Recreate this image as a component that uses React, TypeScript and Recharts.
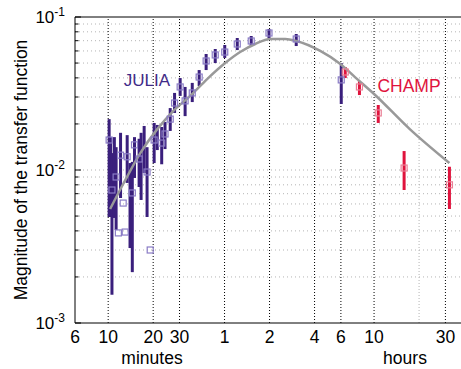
import React from "react";
import {
  ComposedChart,
  XAxis,
  YAxis,
  Line,
  Scatter,
  ErrorBar,
  ReferenceLine,
} from "recharts";

const FONT = '"Liberation Sans", Arial, Helvetica, sans-serif';

// periods are in minutes
const juliaPeriod = [
  10.15, 10.4, 10.6, 11.0, 11.3, 11.7, 12.1, 12.6, 13.0, 13.4, 14.0, 14.5, 15.0,
  16.1, 16.6, 17.4, 18.2, 19.1, 20.3, 21.3, 22.8, 24.0, 26.0, 27.8, 30.3, 32.7,
  36.5, 40.6, 45.2, 52.0, 60.2, 73.0, 90.5, 119, 181, 362,
];
const juliaSquare = [
  0.0157, null, 0.0074, null, 0.009, 0.00388, 0.0125, 0.00608, 0.00393, 0.0122,
  null, 0.00708, 0.0146, 0.0118, null, null, 0.0097, 0.003, 0.0157, null, 0.015,
  0.0172, 0.0215, 0.0274, 0.0349, 0.0283, 0.0319, 0.0405, 0.0516, 0.0565, 0.059,
  0.0666, 0.0697, 0.0786, 0.0718, 0.0388,
];
const juliaLow = [
  0.00493, 0.00493, 0.00153, 0.00486, 0.00405, null, 0.00656, null, null,
  0.00823, 0.00309, 0.00215, 0.00887, 0.00774, 0.00637, 0.00956, 0.00493, null,
  0.0111, 0.0135, 0.0109, 0.0137, 0.018, 0.0236, 0.0305, 0.0225, 0.0278, 0.0354,
  0.045, 0.05, 0.054, 0.0608, 0.0646, 0.0729, 0.0646, 0.027,
];
const juliaHigh = [
  0.0215, 0.0164, 0.0129, 0.0164, 0.0141, null, 0.0175, null, null, 0.0169,
  0.0111, 0.0113, 0.0164, 0.016, 0.0175, 0.0194, 0.0141, null, 0.0203, 0.0197,
  0.0191, 0.0206, 0.0254, 0.0319, 0.0399, 0.0349, 0.0371, 0.045, 0.0573, 0.0618,
  0.0656, 0.0729, 0.0751, 0.0835, 0.0774, 0.05,
];

const champPeriod = [385, 479, 640, 953, 1915];
const champSquare = [0.0437, 0.0349, 0.0236, 0.0103, 0.008];
const champLow = [0.0399, 0.0309, 0.0203, 0.0074, 0.00556];
const champHigh = [0.0471, 0.0382, 0.0266, 0.0133, 0.0105];

const fitPeriod = [
  10.3, 12.6, 16.4, 21.3, 27.2, 35.4, 45.9, 60.6, 76.3, 96.2, 121, 153, 181,
  262, 357, 447, 600, 1040, 1915,
];
const fitValue = [
  0.00556, 0.0081, 0.0129, 0.0185, 0.0243, 0.0305, 0.0393, 0.05, 0.059, 0.0666,
  0.0718, 0.0718, 0.0697, 0.06, 0.0493, 0.0405, 0.0314, 0.0185, 0.0111,
];

const xTicks = [6, 10, 20, 30, 60, 120, 240, 360, 600, 1800];
const xTickLabels = ["6", "10", "20", "30", "1", "2", "4", "6", "10", "30"];
const xFaintGrid = [1200];
const yDecades = [0.001, 0.01, 0.1];
const yDecadeExp = ["-3", "-2", "-1"];
const yMinor = [
  0.002, 0.003, 0.004, 0.005, 0.006, 0.007, 0.008, 0.009, 0.02, 0.03, 0.04,
  0.05, 0.06, 0.07, 0.08, 0.09,
];
const yTicks = [...yDecades, ...yMinor].sort((a, b) => a - b);

const toSquares = (period: number[], vals: (number | null)[]) =>
  period
    .map((x, i) => ({ x, y: vals[i] }))
    .filter((d) => d.y != null);

const toBars = (period: number[], low: (number | null)[], high: (number | null)[]) =>
  period
    .map((x, i) =>
      low[i] == null || high[i] == null
        ? null
        : { x, y: high[i] as number, err: [(high[i] as number) - (low[i] as number), 0] }
    )
    .filter(Boolean) as { x: number; y: number; err: number[] }[];

const juliaBars = toBars(juliaPeriod, juliaLow, juliaHigh);
const juliaSquares = toSquares(juliaPeriod, juliaSquare);
const champBars = toBars(champPeriod, champLow, champHigh);
const champSquares = toSquares(champPeriod, champSquare);
const fitData = fitPeriod.map((x, i) => ({ x, y: fitValue[i] }));

const JULIA_DARK = "#3a1f7c";
const JULIA_LIGHT = "#8a7cc6";
const CHAMP_DARK = "#e0133d";
const CHAMP_LIGHT = "#ea8096";

function XTick({ x, y, payload }: any) {
  const i = xTicks.indexOf(payload.value);
  return (
    <text x={x} y={y + 20} textAnchor="middle" fontSize={17.5} fontFamily={FONT} fill="#000">
      {xTickLabels[i]}
    </text>
  );
}

function YTick({ x, y, payload }: any) {
  const k = yDecades.indexOf(payload.value);
  const major = k >= 0;
  return (
    <g>
      <line x1={x} x2={x + (major ? 6 : 3.5)} y1={y} y2={y} stroke="#000" />
      {major && (
        <text x={x - 10} y={y} dy="0.36em" textAnchor="end" fontSize={17} fontFamily={FONT} fill="#000">
          <tspan>10</tspan>
          <tspan dy={-7} fontSize={12}>
            {yDecadeExp[k]}
          </tspan>
        </text>
      )}
    </g>
  );
}

const square = (color: string) => (p: any) => (
  <rect x={p.cx - 3} y={p.cy - 3} width={6} height={6} fill="none" stroke={color} strokeWidth={1.2} />
);
const nothing = () => <g />;

export default function App() {
  return (
    <div
      style={{
        position: "fixed",
        left: 0,
        top: 0,
        width: 461,
        height: 369,
        overflow: "hidden",
        background: "#fff",
      }}
    >
      <ComposedChart width={470} height={369} margin={{ top: 17, right: 7, bottom: 16, left: 15 }}>
        <XAxis
          type="number"
          dataKey="x"
          scale="log"
          domain={[6, 2360]}
          allowDataOverflow
          ticks={xTicks}
          interval={0}
          tick={<XTick />}
          tickLine={false}
          tickSize={0}
          tickMargin={0}
          axisLine={{ stroke: "#000" }}
          height={30}
        />
        <YAxis
          type="number"
          dataKey="y"
          scale="log"
          domain={[0.001, 0.1]}
          allowDataOverflow
          ticks={yTicks}
          interval={0}
          tick={<YTick />}
          tickLine={false}
          tickSize={0}
          tickMargin={0}
          axisLine={{ stroke: "#000" }}
          width={60}
        />
        {[...yMinor, 0.01].map((v) => (
          <ReferenceLine key={"h" + v} y={v} stroke="#b4b4b4" strokeDasharray="1 3" />
        ))}
        {xTicks.slice(1).map((v) => (
          <ReferenceLine key={"v" + v} x={v} stroke="#000" strokeDasharray="1 2" />
        ))}
        {xFaintGrid.map((v) => (
          <ReferenceLine key={"f" + v} x={v} stroke="#b4b4b4" strokeDasharray="1 2" />
        ))}
        <ReferenceLine y={0.1} stroke="#000" />
        <Scatter data={juliaBars} shape={nothing} isAnimationActive={false}>
          <ErrorBar dataKey="err" direction="y" width={0} stroke={JULIA_DARK} strokeWidth={3} />
        </Scatter>
        <Scatter data={champBars} shape={nothing} isAnimationActive={false}>
          <ErrorBar dataKey="err" direction="y" width={0} stroke={CHAMP_DARK} strokeWidth={3} />
        </Scatter>
        <Scatter data={juliaSquares} shape={square(JULIA_LIGHT)} isAnimationActive={false} />
        <Scatter data={champSquares} shape={square(CHAMP_LIGHT)} isAnimationActive={false} />
        <Line
          data={fitData}
          dataKey="y"
          type="monotone"
          stroke="#999"
          strokeWidth={2.5}
          dot={false}
          isAnimationActive={false}
        />
      </ComposedChart>
      <svg
        width={461}
        height={369}
        style={{ position: "absolute", left: 0, top: 0, pointerEvents: "none" }}
        fontFamily={FONT}
      >
        <text
          transform="translate(21,170) rotate(-90)"
          textAnchor="middle"
          dominantBaseline="central"
          fontSize={17.5}
          fill="#000"
        >
          Magnitude of the transfer function
        </text>
        <text x={147} y={80} textAnchor="middle" dominantBaseline="central" fontSize={17} fill="#3f2a88">
          JULIA
        </text>
        <text x={409} y={86} textAnchor="middle" dominantBaseline="central" fontSize={17.5} fill={CHAMP_DARK}>
          CHAMP
        </text>
        <text x={152} y={364} textAnchor="middle" fontSize={17.5} fill="#000">
          minutes
        </text>
        <text x={405} y={364} textAnchor="middle" fontSize={17.5} fill="#000">
          hours
        </text>
      </svg>
    </div>
  );
}
